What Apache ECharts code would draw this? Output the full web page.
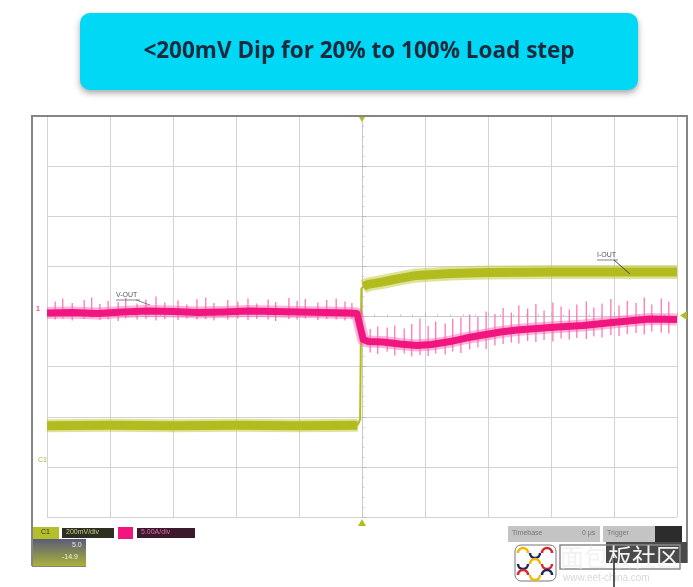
<!DOCTYPE html>
<html><head><meta charset="utf-8">
<script src="https://cdn.jsdelivr.net/npm/echarts@6/dist/echarts.min.js"></script>
<style>html,body{margin:0;padding:0;background:#fff}#c{width:693px;height:587px}</style>
</head><body><div id="c"></div>
<script>
// ---- data (time in divisions, centre = 0; amplitude in divisions, centre = 0) ----
const titleText = '<200mV Dip for 20% to 100% Load step';
const voutLabel = 'V-OUT';
const ioutLabel = 'I-OUT';
const timeRange = [-5, 5];
const divRange = [-4, 4];

const voutTrace = [
  [-5.00, 0.07], [-4.60, 0.08], [-4.20, 0.06], [-3.80, 0.09], [-3.40, 0.11], [-3.00, 0.10],
  [-2.60, 0.08], [-2.20, 0.09], [-1.80, 0.11], [-1.40, 0.10], [-1.00, 0.09], [-0.60, 0.08],
  [-0.20, 0.07], [-0.08, 0.06], [0.02, -0.46], [0.10, -0.50], [0.33, -0.51], [0.60, -0.55],
  [0.87, -0.58], [1.10, -0.56], [1.40, -0.50], [1.65, -0.43], [1.92, -0.37], [2.20, -0.31],
  [2.46, -0.27], [2.98, -0.22], [3.51, -0.18], [4.05, -0.11], [4.57, -0.05], [5.00, -0.06]
];

const voutSpikes = [
  [-4.87,-0.06,0.30],[-4.75,-0.04,0.36],[-4.60,-0.08,0.27],[-4.41,-0.05,0.33],[-4.29,-0.03,0.38],
  [-4.16,-0.07,0.25],[-4.03,-0.06,0.31],[-3.87,-0.09,0.29],[-3.75,-0.04,0.37],[-3.57,-0.06,0.26],
  [-3.43,-0.05,0.34],[-3.27,-0.08,0.40],[-3.13,-0.05,0.28],[-2.92,-0.07,0.32],[-2.78,-0.04,0.24],
  [-2.62,-0.06,0.35],[-2.48,-0.05,0.38],[-2.35,-0.08,0.27],[-2.13,-0.06,0.33],[-1.97,-0.04,0.30],
  [-1.81,-0.07,0.36],[-1.67,-0.05,0.26],[-1.49,-0.06,0.34],[-1.37,-0.09,0.29],[-1.16,-0.05,0.37],
  [-1.03,-0.06,0.31],[-0.90,-0.04,0.35],[-0.70,-0.07,0.28],[-0.56,-0.05,0.33],[-0.41,-0.06,0.36],
  [-0.27,-0.08,0.30],[-0.16,-0.05,0.27],
  [0.13,-0.72,-0.25],[0.25,-0.75,-0.20],[0.40,-0.70,-0.22],[0.52,-0.78,-0.18],[0.67,-0.74,-0.24],
  [0.79,-0.80,-0.15],[0.92,-0.77,-0.04],[1.05,-0.79,-0.19],[1.17,-0.74,-0.10],[1.32,-0.76,-0.14],
  [1.44,-0.70,-0.05],[1.57,-0.73,-0.02],[1.71,-0.66,0.04],[1.84,-0.62,-0.01],[1.97,-0.65,0.10],
  [2.11,-0.58,0.05],[2.24,-0.55,0.17],[2.37,-0.52,0.08],[2.49,-0.54,0.22],[2.63,-0.49,0.16],
  [2.76,-0.51,0.25],[2.89,-0.47,0.12],[3.03,-0.50,0.28],[3.16,-0.44,0.20],[3.29,-0.46,0.14],
  [3.41,-0.43,0.24],[3.56,-0.45,0.30],[3.68,-0.40,0.18],[3.81,-0.42,0.26],[3.95,-0.37,0.35],
  [4.08,-0.39,0.22],[4.21,-0.35,0.31],[4.35,-0.33,0.27],[4.48,-0.36,0.38],[4.60,-0.30,0.24],
  [4.75,-0.32,0.36],[4.87,-0.34,0.30]
];

const ioutBefore = [[-5.00,-2.18],[-4.00,-2.17],[-3.00,-2.18],[-2.00,-2.17],[-1.00,-2.18],[-0.07,-2.17]];
const ioutEdge = [[-0.07,-2.17],[-0.03,-2.05],[-0.01,0.55],[0.02,0.60]];
const ioutAfter = [[0.02,0.60],[0.10,0.64],[0.33,0.69],[0.60,0.76],[0.87,0.82],[1.40,0.86],
  [2.00,0.88],[3.00,0.89],[4.00,0.89],[5.00,0.89]];

// ---- chart ----
const PINK = '#f0157f', PINK_HALO = 'rgba(255,90,170,0.45)', PINK_SPIKE = '#ff6cb4';
const YEL = '#b3bc1f', YEL_HALO = 'rgba(196,204,70,0.55)';
const GRID = {left: 47, top: 116, width: 630, height: 401};

const chart = echarts.init(document.getElementById('c'), null, {renderer: 'canvas'});

const axisCommon = {
  type: 'value', interval: 1,
  axisLabel: {show: false},
  axisLine: {show: true, onZero: true, lineStyle: {color: '#c9c9c9', width: 1}},
  axisTick: {show: true, inside: true, length: 4, lineStyle: {color: '#b9b9b9'}},
  minorTick: {show: true, splitNumber: 5, length: 2, lineStyle: {color: '#c4c4c4'}},
  splitLine: {show: true, lineStyle: {color: '#d3d3d3', width: 1}}
};

function lineSeries(data, color, width, z) {
  return {type: 'line', data: data, showSymbol: false, symbol: 'none', smooth: false,
    lineStyle: {color: color, width: width, cap: 'butt', join: 'round'}, z: z, silent: true};
}

const logoArcs = [];
const arcColors = ['#f2b705','#1c2a5a','#d9262e','#1c2a5a','#f2b705','#d9262e','#d9262e','#f2b705','#1c2a5a'];
for (let i = 0; i < 9; i++) {
  const cx = 523 + (i % 3) * 12, cy = 553 + Math.floor(i / 3) * 11;
  logoArcs.push({type: 'arc', shape: {cx: cx, cy: cy, r: 5, startAngle: (i % 2) ? 0 : Math.PI, endAngle: (i % 2) ? Math.PI : Math.PI * 2},
    style: {stroke: arcColors[i], lineWidth: 2.5, fill: null}, z: 102});
}

const option = {
  animation: false,
  backgroundColor: '#ffffff',
  grid: GRID,
  xAxis: Object.assign({}, axisCommon, {min: timeRange[0], max: timeRange[1]}),
  yAxis: Object.assign({}, axisCommon, {min: divRange[0], max: divRange[1]}),
  series: [
    lineSeries(ioutBefore, YEL_HALO, 13, 2),
    lineSeries(ioutAfter, YEL_HALO, 14, 2),
    lineSeries(ioutBefore, YEL, 9, 3),
    lineSeries(ioutAfter, YEL, 9, 3),
    lineSeries(ioutEdge, YEL, 2, 3),
    {
      type: 'custom', data: voutSpikes, z: 4, silent: true,
      encode: {x: 0, y: [1, 2]},
      renderItem: function (params, api) {
        const p1 = api.coord([api.value(0), api.value(1)]);
        const p2 = api.coord([api.value(0), api.value(2)]);
        return {type: 'line', shape: {x1: p1[0], y1: p1[1], x2: p2[0], y2: p2[1]},
          style: {stroke: PINK_SPIKE, lineWidth: 1.2}};
      }
    },
    lineSeries(voutTrace, PINK_HALO, 12, 5),
    lineSeries(voutTrace, PINK, 7, 6)
  ],
  graphic: [
    // title box
    {type: 'rect', shape: {x: 80, y: 13, width: 558, height: 77, r: 10},
      style: {fill: '#00d8f6', shadowBlur: 6, shadowColor: 'rgba(0,0,0,0.35)', shadowOffsetY: 3}, z: 100},
    {type: 'text', x: 359, y: 52, style: {text: titleText, fill: '#1b2a3c', font: 'bold 22.5px "Open Sans"',
      align: 'center', verticalAlign: 'middle'}, z: 101},
    // scope frame
    {type: 'polyline', shape: {points: [[32, 566], [32, 116], [687, 116], [687, 563]]},
      style: {stroke: '#858585', lineWidth: 2, fill: null}, z: 50},
    {type: 'line', shape: {x1: 32, y1: 566, x2: 86, y2: 566}, style: {stroke: '#858585', lineWidth: 2}, z: 50},
    // trace labels
    {type: 'text', x: 116, y: 292, style: {text: voutLabel, fill: '#555', font: '7px "Liberation Sans"'}, z: 60},
    {type: 'line', shape: {x1: 116, y1: 300, x2: 140, y2: 300}, style: {stroke: '#666', lineWidth: 0.8}, z: 60},
    {type: 'line', shape: {x1: 136, y1: 300, x2: 150, y2: 305}, style: {stroke: '#666', lineWidth: 0.8}, z: 60},
    {type: 'text', x: 597, y: 252, style: {text: ioutLabel, fill: '#555', font: '7px "Liberation Sans"'}, z: 60},
    {type: 'line', shape: {x1: 597, y1: 260, x2: 618, y2: 260}, style: {stroke: '#666', lineWidth: 0.8}, z: 60},
    {type: 'line', shape: {x1: 614, y1: 260, x2: 630, y2: 274}, style: {stroke: '#444', lineWidth: 1}, z: 60},
    // channel markers
    {type: 'text', x: 36, y: 306, style: {text: '1', fill: '#ff3c9c', font: 'bold 7px "Liberation Sans"'}, z: 60},
    {type: 'text', x: 38, y: 457, style: {text: 'C1', fill: '#a9b23a', font: '7px "Liberation Sans"'}, z: 60},
    {type: 'polygon', shape: {points: [[687, 311], [687, 320], [680, 315.5]]}, style: {fill: '#b3bc1f'}, z: 60},
    {type: 'polygon', shape: {points: [[358, 526], [366, 526], [362, 519]]}, style: {fill: '#b3bc1f'}, z: 60},
    {type: 'polygon', shape: {points: [[359, 117], [365, 117], [362, 122]]}, style: {fill: '#b3bc1f'}, z: 60},
    // status bar (left)
    {type: 'rect', shape: {x: 33, y: 527, width: 26, height: 12}, style: {fill: '#b5bf2c'}, z: 60},
    {type: 'text', x: 41, y: 529, style: {text: 'C1', fill: '#333', font: '7px "Liberation Sans"'}, z: 61},
    {type: 'rect', shape: {x: 62, y: 528, width: 52, height: 10}, style: {fill: '#2e2f22'}, z: 60},
    {type: 'text', x: 66, y: 529, style: {text: '200mV/div', fill: '#c9cf8a', font: '7px "Liberation Sans"'}, z: 61},
    {type: 'rect', shape: {x: 118, y: 527, width: 15, height: 12}, style: {fill: '#f0157f'}, z: 60},
    {type: 'rect', shape: {x: 137, y: 528, width: 58, height: 10}, style: {fill: '#3a1a2c'}, z: 60},
    {type: 'text', x: 141, y: 529, style: {text: '5.00A/div', fill: '#e06aa4', font: '7px "Liberation Sans"'}, z: 61},
    {type: 'rect', shape: {x: 33, y: 539, width: 53, height: 27},
      style: {fill: new echarts.graphic.LinearGradient(0, 0, 0, 1, [{offset: 0, color: '#5a5c78'}, {offset: 1, color: '#a9b13a'}])}, z: 60},
    {type: 'text', x: 72, y: 542, style: {text: '5.0', fill: '#e6e6f0', font: '7px "Liberation Sans"'}, z: 61},
    {type: 'text', x: 62, y: 554, style: {text: '-14.9', fill: '#f0f0d0', font: '7px "Liberation Sans"'}, z: 61},
    // status bar (right)
    {type: 'rect', shape: {x: 508, y: 526, width: 92, height: 16}, style: {fill: '#c4c4c4'}, z: 60},
    {type: 'text', x: 512, y: 530, style: {text: 'Timebase', fill: '#777', font: '7px "Liberation Sans"'}, z: 61},
    {type: 'text', x: 582, y: 530, style: {text: '0 µs', fill: '#777', font: '7px "Liberation Sans"'}, z: 61},
    {type: 'rect', shape: {x: 603, y: 526, width: 52, height: 16}, style: {fill: '#c4c4c4'}, z: 60},
    {type: 'text', x: 607, y: 530, style: {text: 'Trigger', fill: '#777', font: '7px "Liberation Sans"'}, z: 61},
    {type: 'rect', shape: {x: 655, y: 526, width: 27, height: 16}, style: {fill: '#2c2c2c'}, z: 60},
    {type: 'rect', shape: {x: 606, y: 542, width: 81, height: 21}, style: {fill: '#4a4a4a'}, z: 60},
    // watermark
    {type: 'rect', shape: {x: 515, y: 545, width: 41, height: 36, r: 6}, style: {fill: '#ffffff', stroke: '#777', lineWidth: 1}, z: 101},
    {type: 'text', x: 560, y: 557, style: {text: '面包板社区', fill: '#f2f2f2', font: '24px "Noto Sans CJK SC"',
      verticalAlign: 'middle', textBorderColor: '#8a8a8a', textBorderWidth: 1.5}, z: 103},
    {type: 'text', x: 563, y: 578, style: {text: 'www.eet-china.com', fill: '#d8d8d8', font: '10px "Liberation Sans"',
      verticalAlign: 'middle'}, z: 103},
    {type: 'line', shape: {x1: 614, y1: 558, x2: 614, y2: 587}, style: {stroke: '#222', lineWidth: 1.5}, z: 104}
  ].concat(logoArcs)
};
chart.setOption(option);
</script>
</body></html>
